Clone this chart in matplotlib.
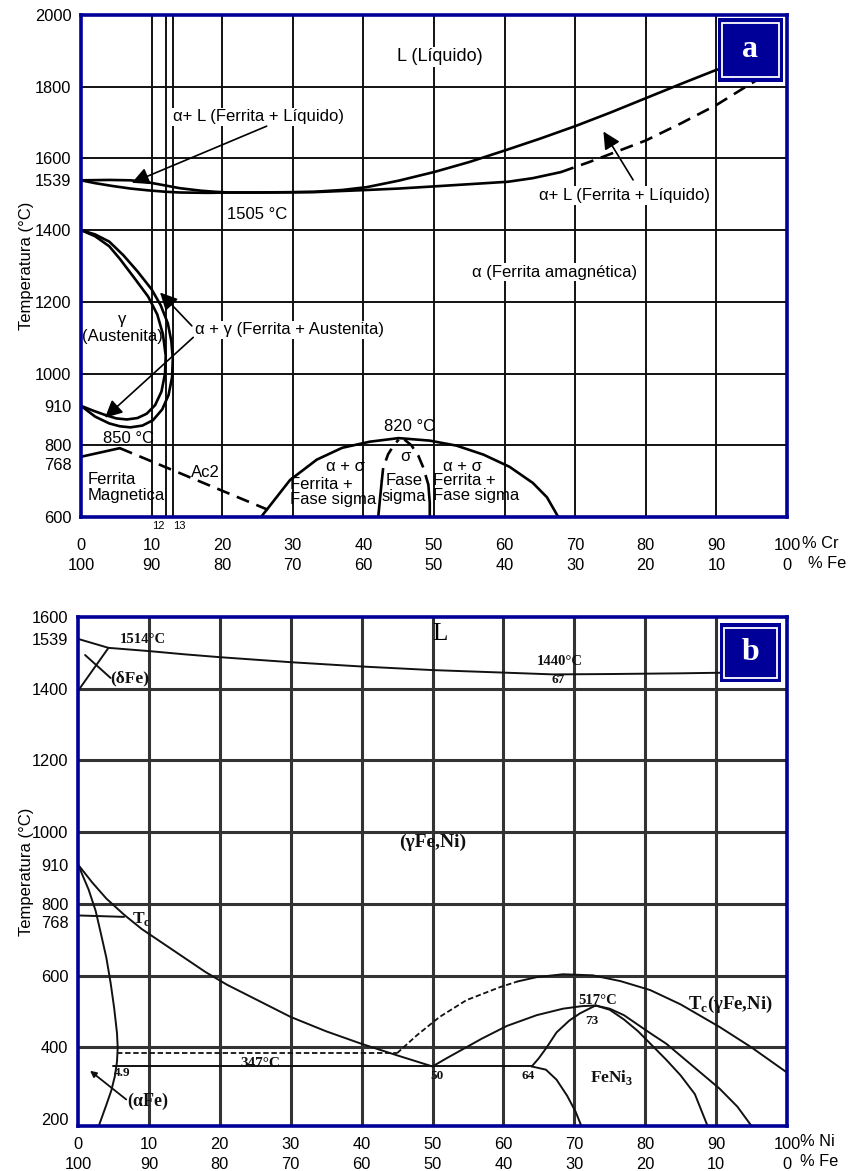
import matplotlib
matplotlib.use("Agg")
import matplotlib.pyplot as plt
from matplotlib.patches import Rectangle
from matplotlib.transforms import ScaledTranslation

W, H = 852, 1171
FRAME = "#000099"
SANS = ["Liberation Sans", "DejaVu Sans"]
SERIF = ["Liberation Serif", "DejaVu Serif"]

# ---------------- Fe-Cr diagram (a) ----------------
cr_ticks = [0, 10, 20, 30, 40, 50, 60, 70, 80, 90, 100]
cr_fe_ticks = [100, 90, 80, 70, 60, 50, 40, 30, 20, 10, 0]
cr_temp_ticks = [2000, 1800, 1600, 1539, 1400, 1200, 1000, 910, 800, 768, 600]
cr_hgrid = [1800, 1600, 1400, 1200, 1000, 800]
cr_vgrid = [10, 12, 13, 20, 30, 40, 50, 60, 70, 80, 90]

liq_x = [0, 4, 7, 9, 11, 14, 17, 19, 21, 25, 30, 33, 37, 40.5, 45, 50, 55,
         60, 65, 70, 75, 80, 85, 90, 93]
liq_t = [1539, 1540, 1539, 1535, 1528, 1517, 1510, 1507, 1505, 1505, 1506, 1507,
         1512, 1520, 1538, 1562, 1590, 1622, 1655, 1690, 1728, 1768, 1808,
         1847, 1858]

sol_x = [0, 2, 4.5, 7, 9.5, 12, 14, 18, 21, 26, 33, 40.5, 45, 50, 56.5, 60.5, 64, 68]
sol_t = [1539, 1531, 1523, 1516, 1511, 1507, 1505, 1504, 1505, 1505, 1506, 1512,
         1516, 1522, 1530, 1535, 1545, 1562]
sol_dash_x = [68, 72, 76, 80, 85, 90, 95, 97.5]
sol_dash_t = [1562, 1590, 1620, 1650, 1698, 1749, 1810, 1838]

gam_in_x = [0, 2, 4, 5.5, 7.5, 9.5, 10.8, 11.6, 12, 11.9, 11.4, 10.5, 9.3, 8, 6.5,
            5, 3.5, 1.8, 0]
gam_in_t = [1400, 1383, 1355, 1320, 1268, 1215, 1165, 1110, 1050, 1000, 950, 912,
            888, 876, 872, 875, 884, 896, 910]
gam_out_x = [0, 2, 4, 6, 8, 10, 11.3, 12.3, 12.8, 13, 12.9, 12.4, 11.5, 10.2, 8.7,
             7, 5.5, 4, 2, 0]
gam_out_t = [1400, 1388, 1368, 1330, 1285, 1235, 1190, 1140, 1090, 1040, 990, 940,
             900, 870, 855, 850, 853, 861, 880, 910]

curie_x = [0, 5.5]
curie_t = [768, 792]
ac2_x = [5.5, 26.5]
ac2_t = [792, 620]

dome_x = [25.5, 26.5, 29.6, 33.4, 37, 40.9, 45, 49.4, 53.2, 57, 60.7, 64, 66, 67.6]
dome_t = [600, 625, 703, 760, 793, 810, 820, 813, 799, 774, 740, 695, 655, 600]

sig_l_solid_x = [42.1, 42.4, 42.6]
sig_l_solid_t = [600, 660, 700]
sig_l_dash_x = [42.6, 42.8, 43.5, 44.3, 45]
sig_l_dash_t = [700, 737, 775, 800, 816]
sig_r_dash_x = [45.8, 46.8, 47.8, 48.5, 49.2]
sig_r_dash_t = [816, 800, 770, 737, 690]
sig_r_solid_x = [49.2, 49.4, 49.4]
sig_r_solid_t = [690, 640, 600]

# ---------------- Fe-Ni diagram (b) ----------------
ni_ticks = [0, 10, 20, 30, 40, 50, 60, 70, 80, 90, 100]
ni_fe_ticks = [100, 90, 80, 70, 60, 50, 40, 30, 20, 10, 0]
ni_temp_ticks = [1600, 1539, 1400, 1200, 1000, 910, 800, 768, 600, 400, 200]
ni_hgrid = [1400, 1200, 1000, 800, 600, 400]
ni_vgrid = [10, 20, 30, 40, 50, 60, 70, 80, 90]

ni_liq_x = [0, 4.3, 10, 15, 20, 30, 40, 50, 60, 67, 75, 85, 92]
ni_liq_t = [1539, 1514, 1505, 1496, 1488, 1474, 1462, 1452, 1445, 1440, 1441, 1443, 1445]

delta_x = [0, 4.3]
delta_t = [1394, 1514]
delta_lead_x = [1.0, 4.6]
delta_lead_t = [1494, 1430]

c1_x = [0, 1.5, 2.5, 3.2, 4.0, 4.6, 5.1, 5.5, 5.6, 5.5, 5.2, 4.7, 4.0, 3.0]
c1_t = [910, 840, 780, 720, 650, 580, 510, 440, 400, 360, 320, 280, 240, 185]
c2_x = [0, 2, 4, 6.5, 9, 12, 15, 18, 21, 25, 30, 35, 40, 45, 50]
c2_t = [910, 860, 815, 770, 730, 690, 650, 610, 575, 535, 485, 445, 410, 378, 347]

tc_x = [0, 6.5]
tc_t = [768, 764]

mag_dash_x = [5.5, 45]
mag_dash_t = [384, 384]

tcg_dash_x = [45, 47.8, 51, 54.8, 59.5, 62]
tcg_dash_t = [384, 434, 485, 532, 568, 584]
tcg_x = [62, 64.7, 68.4, 72.6, 76.5, 80.7, 85, 90.5, 95, 100]
tcg_t = [584, 596, 604, 601, 585, 560, 520, 457, 400, 330]

eut_x = [5, 64]
eut_t = [347, 347]

fe3_left_x = [50, 52, 54, 57, 60.5, 64.7, 68.4, 71, 73]
fe3_left_t = [347, 370, 392, 425, 460, 490, 508, 515, 517]
fe3_in_x = [64, 65, 66.1, 67.5, 69.3, 70.8, 73]
fe3_in_t = [347, 370, 400, 442, 475, 495, 517]
fe3_low_x = [64, 66, 67.5, 69, 70.2, 71]
fe3_low_t = [347, 338, 310, 265, 220, 181]
fe3_r1_x = [73, 75, 77, 79, 81, 83, 85, 87, 88.8]
fe3_r1_t = [517, 505, 478, 445, 405, 365, 322, 270, 181]
fe3_r2_x = [73, 75, 77, 80.7, 83, 86, 90.5, 93, 95]
fe3_r2_t = [517, 508, 490, 440, 410, 360, 285, 235, 181]

afe_lead_tip = (1.7, 335)
afe_lead_tail = (6.8, 255)


def ax_rect(x0, y0, x1, y1):
    return [x0 / W, 1 - y1 / H, (x1 - x0) / W, (y1 - y0) / H]


def style_axes(ax, xlim, ylim, yticks, xtop, xbot, hgrid, vgrid,
               grid_color, grid_lw, xpad, label_x):
    ax.set_xlim(*xlim)
    ax.set_ylim(*ylim)
    for s in ax.spines.values():
        s.set_color(FRAME)
        s.set_linewidth(2.6)
        s.set_zorder(10)
    for g in hgrid:
        ax.axhline(g, color=grid_color, lw=grid_lw, zorder=1)
    for g in vgrid:
        ax.axvline(g, color=grid_color, lw=grid_lw, zorder=1)
    ax.set_yticks(yticks)
    ax.set_yticklabels([str(v) for v in yticks], fontsize=11.8, family=SANS)
    ax.set_xticks(xtop)
    ax.set_xticklabels([f"{a}\n{b}" for a, b in zip(xtop, xbot)],
                       fontsize=11.8, family=SANS)
    for lab in ax.get_xticklabels():
        lab.set_linespacing(1.4)
    ax.tick_params(axis="both", length=0)
    ax.tick_params(axis="y", pad=7)
    ax.tick_params(axis="x", pad=xpad)
    fig = ax.figure
    for lab in ax.get_yticklabels():
        if lab.get_text() == "768":
            lab.set_transform(lab.get_transform() +
                              ScaledTranslation(0, -5 / 72, fig.dpi_scale_trans))
    ax.set_ylabel("Temperatura (°C)", fontsize=12, family=SANS)
    ax.yaxis.set_label_coords(label_x, 0.5)


def unit_label(text, x_px, y_px):
    fig.text(x_px / W, 1 - y_px / H, text, fontsize=11.8, family=SANS,
             ha="left", va="center")


def tag(ax, letter, x0, y0, w, h):
    ax.add_patch(Rectangle((x0, y0), w, h, transform=ax.transAxes,
                           facecolor=FRAME, edgecolor="none", zorder=11))
    ax.add_patch(Rectangle((x0 + 0.006, y0 + 0.009), w - 0.012, h - 0.018,
                           transform=ax.transAxes, facecolor="none",
                           edgecolor="white", lw=1.3, zorder=12))
    ax.text(x0 + w / 2, y0 + h / 2, letter, transform=ax.transAxes,
            color="white", fontsize=23, fontweight="bold", family=SERIF,
            ha="center", va="center", zorder=13)


fig = plt.figure(figsize=(W / 100, H / 100), dpi=100)

# ======== panel a ========
ax = fig.add_axes(ax_rect(81, 15, 787, 517))
style_axes(ax, (0, 100), (600, 2000), cr_temp_ticks, cr_ticks, cr_fe_ticks,
           cr_hgrid, cr_vgrid, "#111111", 1.4, 15, -0.066)
unit_label("% Cr", 802, 543)
unit_label("% Fe", 808, 564)

lw = 1.9
kw = dict(color="black", lw=lw, zorder=4, solid_capstyle="round",
          solid_joinstyle="round")
dkw = dict(color="black", lw=lw, zorder=4, linestyle=(0, (5, 3)))
ax.plot(liq_x, liq_t, **kw)
ax.plot(sol_x, sol_t, **kw)
ax.plot(sol_dash_x, sol_dash_t, **dkw)
ax.plot(gam_in_x, gam_in_t, **kw)
ax.plot(gam_out_x, gam_out_t, **kw)
ax.plot(curie_x, curie_t, **kw)
ax.plot(ac2_x, ac2_t, **dkw)
ax.plot(dome_x, dome_t, **kw)
ax.plot(sig_l_solid_x, sig_l_solid_t, **kw)
ax.plot(sig_l_dash_x, sig_l_dash_t, **dkw)
ax.plot(sig_r_dash_x, sig_r_dash_t, **dkw)
ax.plot(sig_r_solid_x, sig_r_solid_t, **kw)

box = dict(facecolor="white", edgecolor="none", pad=1.2)
tk = dict(fontsize=12, family=SANS, zorder=6)
ax.text(50.8, 1883, "L (Líquido)", ha="center", va="center", bbox=box,
        fontsize=13, family=SANS, zorder=6)
ax.text(25.1, 1716, "α+ L (Ferrita + Líquido)", ha="center", va="center", bbox=box, **tk)
ax.text(77, 1497, "α+ L (Ferrita + Líquido)", ha="center", va="center", bbox=box, **tk)
ax.text(25, 1444, "1505 °C", ha="center", va="center", bbox=box, **tk)
ax.text(67.1, 1283, "α (Ferrita amagnética)", ha="center", va="center", bbox=box, **tk)
ax.text(5.8, 1127, "γ\n(Austenita)", ha="center", va="center", linespacing=1.1, **tk)
ax.text(29.5, 1122, "α + γ (Ferrita + Austenita)", ha="center", va="center", bbox=box, **tk)
ax.text(6.7, 819, "850 °C", ha="center", va="center", **tk)
ax.text(1.0, 682, "Ferrita\nMagnetica", ha="left", va="center", linespacing=1.05, **tk)
ax.text(17.6, 723, "Ac2", ha="center", va="center", **tk)
ax.text(46.6, 852, "820 °C", ha="center", va="center", **tk)
ax.text(37.4, 740, "α + σ", ha="center", va="center", **tk)
ax.text(29.6, 670, "Ferrita +\nFase sigma", ha="left", va="center", linespacing=1.05, **tk)
ax.text(45.9, 768, "σ", ha="center", va="center", **tk)
ax.text(45.8, 679, "Fase\nsigma", ha="center", va="center", linespacing=1.05, **tk)
ax.text(54, 742, "α + σ", ha="center", va="center", **tk)
ax.text(49.9, 681, "Ferrita +\nFase sigma", ha="left", va="center", linespacing=1.05, **tk)

akw = dict(arrowstyle="-|>", mutation_scale=26, color="black", lw=1.2,
           shrinkA=0, shrinkB=0)
ax.annotate("", xy=(7.2, 1532), xytext=(26.3, 1690), arrowprops=akw, zorder=7)
ax.annotate("", xy=(74, 1675), xytext=(78.2, 1540), arrowprops=akw, zorder=7)
ax.annotate("", xy=(11.2, 1226), xytext=(15.7, 1133), arrowprops=akw, zorder=7)
ax.annotate("", xy=(3.4, 877), xytext=(15.9, 1101), arrowprops=akw, zorder=7)

ax.text(10.9, -0.008, "12", transform=ax.get_xaxis_transform(), fontsize=8,
        family=SANS, ha="center", va="top")
ax.text(13.9, -0.008, "13", transform=ax.get_xaxis_transform(), fontsize=8,
        family=SANS, ha="center", va="top")

tag(ax, "a", 0.902, 0.867, 0.092, 0.127)

# ======== panel b ========
bx = fig.add_axes(ax_rect(78, 617, 787, 1126))
style_axes(bx, (0, 100), (181, 1600), ni_temp_ticks, ni_ticks, ni_fe_ticks,
           ni_hgrid, ni_vgrid, "#333333", 2.2, 8, -0.062)
unit_label("% Ni", 800, 1142)
unit_label("% Fe", 800, 1162)

bkw = dict(color="#111111", lw=1.4, zorder=4, solid_capstyle="round",
           solid_joinstyle="round")
bdkw = dict(color="#111111", lw=1.3, zorder=4, linestyle=(0, (3, 1.5)))
bx.plot(ni_liq_x, ni_liq_t, **bkw)
bx.plot(delta_x, delta_t, **bkw)
bx.plot(delta_lead_x, delta_lead_t, **bkw)
bx.plot(c1_x, c1_t, **bkw)
bx.plot(c2_x, c2_t, **bkw)
bx.plot(tc_x, tc_t, **bkw)
bx.plot(mag_dash_x, mag_dash_t, **bdkw)
bx.plot(tcg_dash_x, tcg_dash_t, **bdkw)
bx.plot(tcg_x, tcg_t, **bkw)
bx.plot(eut_x, eut_t, **bkw)
bx.plot(fe3_left_x, fe3_left_t, **bkw)
bx.plot(fe3_in_x, fe3_in_t, **bkw)
bx.plot(fe3_low_x, fe3_low_t, **bkw)
bx.plot(fe3_r1_x, fe3_r1_t, **bkw)
bx.plot(fe3_r2_x, fe3_r2_t, **bkw)
bx.annotate("", xy=afe_lead_tip, xytext=afe_lead_tail, zorder=5,
            arrowprops=dict(arrowstyle="-|>", mutation_scale=9, color="#111111",
                            lw=1.3, shrinkA=0, shrinkB=0))

sb = dict(family=SERIF, fontweight="bold", zorder=6, color="#111111")
bx.text(51, 1553, "L", ha="center", va="center", fontsize=18, family=SERIF, zorder=6)
bx.text(5.9, 1537, "1514°C", ha="left", va="center", fontsize=10.5, **sb)
bx.text(4.6, 1428, "(δFe)", ha="left", va="center", fontsize=12.5, **sb)
bx.text(68, 1475, "1440°C", ha="center", va="center", fontsize=10.5, **sb)
bx.text(67.7, 1425, "67", ha="center", va="center", fontsize=9.5, **sb)
bx.text(50, 972, "(γFe,Ni)", ha="center", va="center", fontsize=14, **sb)
bx.text(7.6, 758, "T$_\\mathregular{c}$", ha="left", va="center", fontsize=12.5, **sb)
bx.text(25.7, 356, "347°C", ha="center", va="center", fontsize=11, **sb)
bx.text(5.0, 328, "4.9", ha="left", va="center", fontsize=9.5, **sb)
bx.text(7.0, 250, "(αFe)", ha="left", va="center", fontsize=13, **sb)
bx.text(50.6, 320, "50", ha="center", va="center", fontsize=9.5, **sb)
bx.text(63.5, 320, "64", ha="center", va="center", fontsize=9.5, **sb)
bx.text(73.3, 530, "517°C", ha="center", va="center", fontsize=10.5, **sb)
bx.text(72.5, 473, "73", ha="center", va="center", fontsize=9.5, **sb)
bx.text(75.3, 315, "FeNi$_\\mathregular{3}$", ha="center", va="center", fontsize=12.5, **sb)
bx.text(92, 521, "T$_\\mathregular{c}$(γFe,Ni)", ha="center", va="center", fontsize=13.5, **sb)

tag(bx, "b", 0.905, 0.872, 0.087, 0.116)

fig.savefig("out.png", dpi=100, facecolor="white")
